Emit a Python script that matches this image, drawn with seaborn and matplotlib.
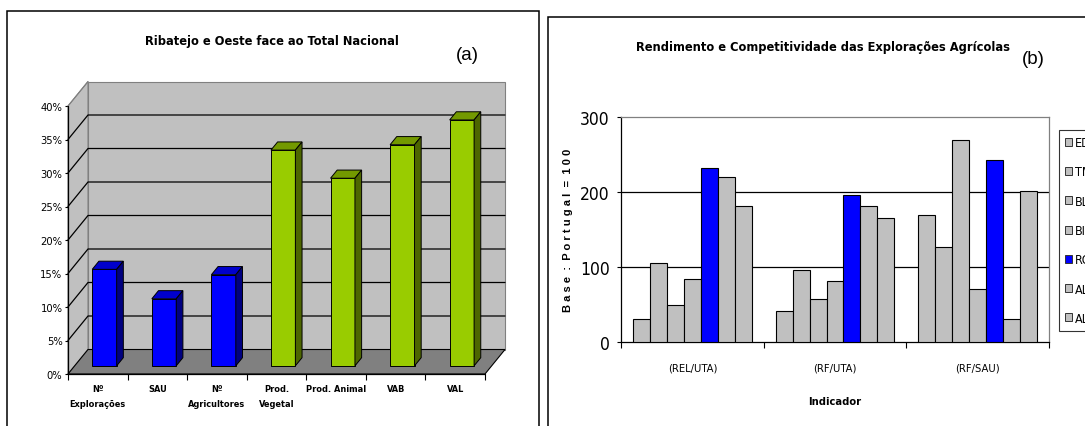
import matplotlib
matplotlib.use("Agg")
import matplotlib.pyplot as plt
from matplotlib import font_manager as fm
from matplotlib.font_manager import FontProperties
from matplotlib.patches import Polygon, Rectangle, Patch
import seaborn as sns
import pandas as pd

# ---- data -------------------------------------------------------------
cats_a = ["Nº\nExplorações", "SAU", "Nº\nAgricultores", "Prod.\nVegetal",
          "Prod. Animal", "VAB", "VAL"]
share_a = [14.4, 10.0, 13.6, 32.2, 28.0, 33.0, 36.7]
kind_a = ["estrutura", "estrutura", "estrutura",
          "producao", "producao", "producao", "producao"]
yticks_a = [0, 5, 10, 15, 20, 25, 30, 35, 40]

indicadores = ["(REL/UTA)", "(RF/UTA)", "(RF/SAU)"]
regioes = ["EDM", "TM", "BL", "BI", "RO", "ALE", "ALG"]
edm = [31, 41, 169]
tm = [106, 96, 127]
bl = [49, 57, 269]
bi = [84, 82, 71]
ro = [232, 196, 243]
ale = [220, 181, 31]
alg = [181, 165, 202]
yticks_b = [0, 100, 200, 300]

# ---- style ------------------------------------------------------------
sns.set_theme(style="white")
plt.rcParams["font.family"] = ["Liberation Sans", "DejaVu Sans"]
for key in ("text.color", "axes.labelcolor", "xtick.color", "ytick.color"):
    plt.rcParams[key] = "black"

CONDENSED = ("condensed", "semi-condensed", "extra-condensed", "ultra-condensed")


def _weight(w):
    return fm.weight_dict.get(w, 400) if isinstance(w, str) else int(w)


def narrow_file(bold):
    """Path of an installed narrow sans face, or None."""
    want = 700 if bold else 400
    best = None
    for f in fm.fontManager.ttflist:
        is_narrow = ("Narrow" in f.name or "Condensed" in f.name
                     or f.stretch in CONDENSED
                     or (isinstance(f.stretch, int) and f.stretch < 100))
        if not is_narrow or f.style != "normal":
            continue
        score = abs(_weight(f.weight) - want)
        rank = 0 if "Liberation" in f.name else (1 if "Arial" in f.name else 2)
        key = (rank, score)
        if best is None or key < best[0]:
            best = (key, f.fname)
    return best[1] if best else None


NARROW_R = narrow_file(False)
NARROW_B = narrow_file(True)
HAVE_NARROW = NARROW_R is not None
K = 1.0 if HAVE_NARROW else 1.2


def fp(size, bold=False):
    if HAVE_NARROW:
        path = NARROW_B if bold else NARROW_R
        return FontProperties(fname=path, size=size)
    return FontProperties(family="Liberation Sans", size=size * K,
                          weight="bold" if bold else "normal")


W, H = 1085, 427
fig = plt.figure(figsize=(W / 100, H / 100), dpi=100)
fig.patch.set_facecolor("white")


def fx(px):
    return px / W


def fy(py):
    return (H - py) / H


# panel frames
fig.patches.append(Rectangle((fx(7), -0.1), fx(539 - 7), fy(12) + 0.1,
                             transform=fig.transFigure, fill=False,
                             edgecolor="black", lw=1.1))
fig.patches.append(Rectangle((fx(548), -0.1), 0.6, fy(18) + 0.1,
                             transform=fig.transFigure, fill=False,
                             edgecolor="black", lw=1.1))

# ======================================================================
# (a) pseudo-3D column chart
# ======================================================================
ax = fig.add_axes([fx(68), fy(375), fx(485 - 68), (375 - 107) / H])
col_front = {"estrutura": "#0000FF", "producao": "#99CC00"}
col_top = {"estrutura": "#0000CC", "producao": "#739900"}
col_side = {"estrutura": "#000080", "producao": "#4D6600"}

df_a = pd.DataFrame({"cat": cats_a, "share": share_a, "kind": kind_a})
sns.barplot(data=df_a, x="cat", y="share", hue="kind", palette=col_front,
            saturation=1, width=0.41, dodge=False, edgecolor="black",
            linewidth=0.7, legend=False, ax=ax, zorder=4)

n = len(cats_a)
x0, x1 = -0.5, n - 0.5
y0, y1 = 0, 40
DX = 20 / ((485 - 68) / n)          # wall depth in category units
DY = 24.5 / ((375 - 107) / 40)      # wall depth in value units
ax.set_xlim(x0, x1)
ax.set_ylim(y0, y1)
for s in ax.spines.values():
    s.set_visible(False)
ax.set_facecolor("none")

# back wall, side wall, floor
ax.add_patch(Polygon([(x0 + DX, y0 + DY), (x1 + DX, y0 + DY), (x1 + DX, y1 + DY),
                      (x0 + DX, y1 + DY)], closed=True, facecolor="#C0C0C0",
                     edgecolor="#808080", lw=0.8, clip_on=False, zorder=0))
ax.add_patch(Polygon([(x0, y0), (x0 + DX, y0 + DY), (x0 + DX, y1 + DY), (x0, y1)],
                     closed=True, facecolor="#C0C0C0", edgecolor="#808080",
                     lw=0.8, clip_on=False, zorder=0))
ax.add_patch(Polygon([(x0, y0), (x1, y0), (x1 + DX, y0 + DY), (x0 + DX, y0 + DY)],
                     closed=True, facecolor="#808080", edgecolor="black",
                     lw=0.8, clip_on=False, zorder=1))
for t in yticks_a[1:-1]:
    ax.plot([x0, x0 + DX, x1 + DX], [t, t + DY, t + DY], color="black",
            lw=0.9, clip_on=False, zorder=1)
ax.plot([x0, x0 + DX], [y1, y1 + DY], color="#808080", lw=0.8,
        clip_on=False, zorder=1)
# front axis lines
ax.plot([x0, x0], [y0, y1], color="black", lw=0.9, clip_on=False, zorder=2)
ax.plot([x0, x1], [y0, y0], color="black", lw=0.9, clip_on=False, zorder=2)

# turn each seaborn column into a box standing one third into the depth
bars = [p for p in ax.patches if isinstance(p, Rectangle) and 0 < p.get_width() < 1]
bars = sorted(bars, key=lambda p: p.get_x())
for bar, kind in zip(bars, kind_a):
    bx, bw, bh = bar.get_x(), bar.get_width(), bar.get_height()
    bx += DX / 3
    by = DY / 3
    bar.set_x(bx)
    bar.set_y(by)
    bar.set_clip_on(False)
    dx, dy = DX / 3, DY / 3
    top = Polygon([(bx, by + bh), (bx + bw, by + bh), (bx + bw + dx, by + bh + dy),
                   (bx + dx, by + bh + dy)], closed=True, facecolor=col_top[kind],
                  edgecolor="black", lw=0.7, clip_on=False, zorder=4)
    side = Polygon([(bx + bw, by), (bx + bw + dx, by + dy), (bx + bw + dx, by + bh + dy),
                    (bx + bw, by + bh)], closed=True, facecolor=col_side[kind],
                   edgecolor="black", lw=0.7, clip_on=False, zorder=4)
    ax.add_patch(top)
    ax.add_patch(side)

ax.set_yticks(yticks_a)
ax.set_yticklabels([f"{t}%" for t in yticks_a])
for lab in ax.get_yticklabels():
    lab.set_fontproperties(fp(8))
ax.set_xticks(range(n))
ax.set_xticklabels(cats_a, linespacing=1.9)
for lab in ax.get_xticklabels():
    lab.set_fontproperties(fp(6.6, bold=True))
ax.set_xticks([i - 0.5 for i in range(n + 1)], minor=True)
ax.tick_params(axis="y", length=2.5, width=0.8, pad=1.5, left=True, color="black")
ax.tick_params(axis="x", which="major", length=0, pad=7)
ax.tick_params(axis="x", which="minor", length=4, width=0.8, bottom=True,
               color="black")
ax.set_xlabel("")
ax.set_ylabel("")

fig.text(fx(272), fy(41), "Ribatejo e Oeste face ao Total Nacional",
         ha="center", va="center", fontproperties=fp(9.2, bold=True))
fig.text(fx(467), fy(56), "(a)", ha="center", va="center", fontsize=13.5,
         family="Liberation Sans")

# ======================================================================
# (b) grouped columns
# ======================================================================
bx_ = fig.add_axes([fx(621), fy(343), fx(1049 - 621), (343 - 118) / H])
series = {"EDM": edm, "TM": tm, "BL": bl, "BI": bi, "RO": ro, "ALE": ale, "ALG": alg}
rows = []
for reg in regioes:
    for ind, v in zip(indicadores, series[reg]):
        rows.append({"indicador": ind, "regiao": reg, "valor": v})
df_b = pd.DataFrame(rows)
pal_b = {r: ("#0000FF" if r == "RO" else "#C0C0C0") for r in regioes}
sns.barplot(data=df_b, x="indicador", y="valor", hue="regiao",
            order=indicadores, hue_order=regioes, palette=pal_b, saturation=1,
            width=0.83, edgecolor="black", linewidth=0.8, legend=False,
            ax=bx_, zorder=3)
bx_.set_ylim(0, 300)
bx_.set_xlim(-0.5, len(indicadores) - 0.5)
bx_.set_yticks(yticks_b)
bx_.set_yticklabels([str(t) for t in yticks_b])
for lab in bx_.get_yticklabels():
    lab.set_fontproperties(fp(12.5))
for t in yticks_b[1:-1]:
    bx_.axhline(t, color="black", lw=0.9, zorder=1)
bx_.spines["left"].set_color("black")
bx_.spines["bottom"].set_color("black")
bx_.spines["top"].set_color("#808080")
bx_.spines["right"].set_color("#808080")
for s in bx_.spines.values():
    s.set_linewidth(0.9)
bx_.set_xticks(range(len(indicadores)))
bx_.set_xticklabels(indicadores)
for lab in bx_.get_xticklabels():
    lab.set_fontproperties(fp(8))
bx_.set_xticks([i - 0.5 for i in range(len(indicadores) + 1)], minor=True)
bx_.tick_params(axis="x", which="major", length=0, pad=15)
bx_.tick_params(axis="x", which="minor", length=4, width=0.8, bottom=True,
                color="black")
bx_.tick_params(axis="y", length=3, width=0.8, left=True, color="black", pad=5)
bx_.set_xlabel("Indicador", fontproperties=fp(8, bold=True), labelpad=17)
bx_.set_ylabel("B a s e  :  P o r t u g a l  =  1 0 0",
               fontproperties=FontProperties(family="Liberation Sans", size=8,
                                             weight="bold"),
               labelpad=5)

fig.text(fx(823), fy(48), "Rendimento e Competitividade das Explorações Agrícolas",
         ha="center", va="center", fontproperties=fp(9.2, bold=True))
fig.text(fx(1033), fy(59), "(b)", ha="center", va="center", fontsize=13.5,
         family="Liberation Sans")

handles = [Patch(facecolor=pal_b[r], edgecolor="#333333", lw=0.7, label=r)
           for r in regioes]
leg = fig.legend(handles=handles, loc="upper left",
                 bbox_to_anchor=(fx(1059), fy(131)), frameon=True,
                 fancybox=False, edgecolor="black", prop=fp(9),
                 handlelength=0.5, handleheight=0.6, handletextpad=0.25,
                 labelspacing=1.3, borderpad=0.5, borderaxespad=0)
leg.get_frame().set_linewidth(0.8)

fig.savefig("out.png", dpi=100, facecolor="white")
